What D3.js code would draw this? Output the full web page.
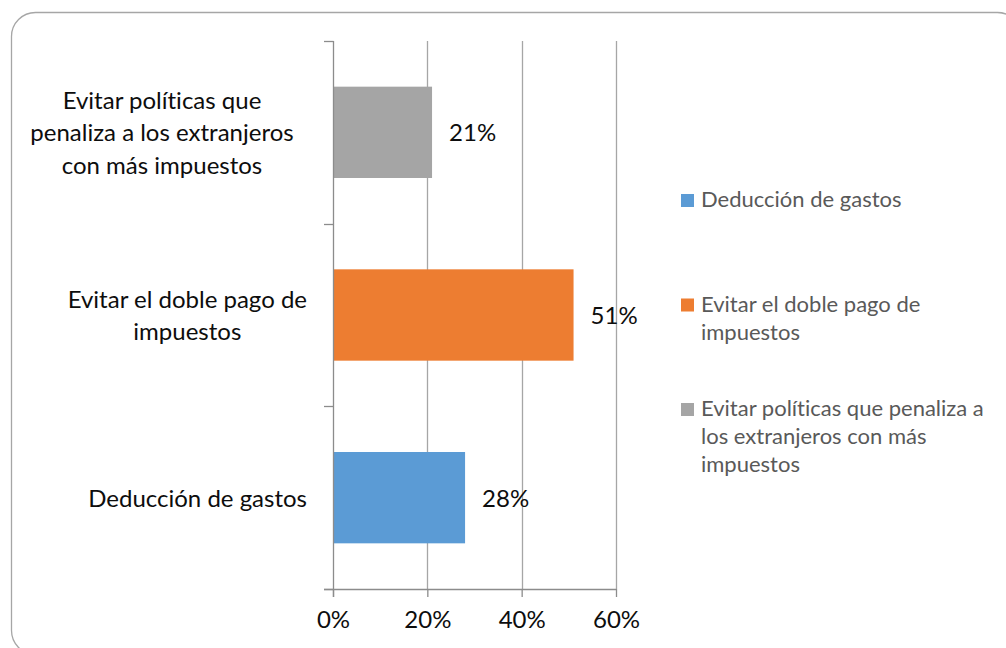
<!DOCTYPE html>
<html>
<head>
<meta charset="utf-8">
<script src="https://cdn.jsdelivr.net/npm/d3@7"></script>
<style>
  body { margin: 0; background: #fff; }
  svg { display: block; }
  text { font-family: Lato, "Open Sans", sans-serif; font-variant-ligatures: none; font-feature-settings: "liga" 0, "dlig" 0; }
</style>
</head>
<body>
<svg id="chart" width="1006" height="648"></svg>
<script>
// Series order (legend order); bars are stacked bottom-up in this order
const categories = [
  "Deducción de gastos",
  "Evitar el doble pago de impuestos",
  "Evitar políticas que penaliza a los extranjeros con más impuestos"
];
const values = [0.28, 0.51, 0.21];
const colors = ["#5B9BD5", "#ED7D31", "#A5A5A5"];
const axisLabelLines = [
  ["Deducción de gastos"],
  ["Evitar el doble pago de", "impuestos"],
  ["Evitar políticas que", "penaliza a los extranjeros", "con más impuestos"]
];
const legendLabelLines = [
  ["Deducción de gastos"],
  ["Evitar el doble pago de", "impuestos"],
  ["Evitar políticas que penaliza a", "los extranjeros con más", "impuestos"]
];
const xTicks = [0, 0.2, 0.4, 0.6];

const svg = d3.select("#chart");
const gridColor = "#a6a6a6";
const axisColor = "#8c8c8c";
const textColor = "#0d0d0d";
const legendColor = "#595959";
const catFont = 24;
const legendFont = 22;

// Chart frame with rounded corners
svg.append("rect")
  .attr("x", 11.5).attr("y", 12.5)
  .attr("width", 1010).attr("height", 642)
  .attr("rx", 24).attr("ry", 24)
  .attr("fill", "#fff")
  .attr("stroke", "#a6a6a6").attr("stroke-width", 1.3);

const plot = { left: 333, right: 616, top: 41, bottom: 589 };

const x = d3.scaleLinear().domain([0, 0.6]).range([plot.left, plot.right]);
const order = categories.map((_, i) => i).reverse(); // top to bottom
const y = d3.scaleBand().domain(order).range([plot.top, plot.bottom])
  .paddingInner(0.5).paddingOuter(0.25);
const step = y.step();
const bandCenter = i => y(i) + y.bandwidth() / 2;

// Vertical gridlines
svg.append("g").selectAll("line")
  .data(xTicks.filter(d => d > 0))
  .join("line")
  .attr("x1", d => Math.round(x(d)) + 0.5).attr("x2", d => Math.round(x(d)) + 0.5)
  .attr("y1", plot.top).attr("y2", plot.bottom)
  .attr("stroke", gridColor).attr("stroke-width", 1.3);

// Bars
svg.append("g").selectAll("rect")
  .data(values)
  .join("rect")
  .attr("x", x(0))
  .attr("y", (d, i) => y(i))
  .attr("width", d => x(d) - x(0))
  .attr("height", y.bandwidth())
  .attr("fill", (d, i) => colors[i]);

// Data labels
svg.append("g").selectAll("text")
  .data(values)
  .join("text")
  .attr("x", d => x(d) + 17)
  .attr("y", (d, i) => bandCenter(i) + 9)
  .attr("font-size", catFont)
  .attr("fill", textColor)
  .text(d => d3.format(".0%")(d));

// X axis
const xAxis = svg.append("g")
  .attr("transform", `translate(0,${plot.bottom})`)
  .call(d3.axisBottom(x).tickValues(xTicks).tickSize(8).tickPadding(14)
    .tickFormat(d3.format(".0%")));
xAxis.select(".domain").remove();
xAxis.selectAll(".tick line").attr("stroke", axisColor).attr("stroke-width", 1.3);
xAxis.selectAll(".tick text")
  .attr("font-size", catFont).attr("fill", textColor)
  .attr("font-family", "Lato, sans-serif")
  .attr("dy", "0.71em");
svg.append("line")
  .attr("x1", plot.left - 9).attr("x2", plot.right + 0.5)
  .attr("y1", plot.bottom + 0.5).attr("y2", plot.bottom + 0.5)
  .attr("stroke", axisColor).attr("stroke-width", 1.3);

// Y axis line with tick marks on category boundaries
svg.append("line")
  .attr("x1", plot.left + 0.5).attr("x2", plot.left + 0.5)
  .attr("y1", plot.top).attr("y2", plot.bottom + 8)
  .attr("stroke", axisColor).attr("stroke-width", 1.3);
const boundaries = d3.range(categories.length + 1).map(k => plot.top + k * step);
svg.append("g").selectAll("line")
  .data(boundaries)
  .join("line")
  .attr("x1", plot.left - 9).attr("x2", plot.left + 0.5)
  .attr("y1", d => Math.round(d) + 0.5).attr("y2", d => Math.round(d) + 0.5)
  .attr("stroke", axisColor).attr("stroke-width", 1.3);

// Category labels: lines centred inside a right-aligned block;
// labels that wrap onto three lines fill the whole wrap width
const catLineH = 32.5;
const catRight = 307;
const catWrapWidth = 290;
const catG = svg.append("g");
axisLabelLines.forEach((lines, i) => {
  const g = catG.append("g");
  const texts = g.selectAll("text").data(lines).join("text")
    .attr("font-size", catFont).attr("fill", textColor)
    .attr("text-anchor", "middle")
    .attr("y", (d, j) => bandCenter(i) + (j - (lines.length - 1) / 2) * catLineH + 9)
    .text(d => d);
  let maxW = 0;
  texts.each(function () { maxW = Math.max(maxW, this.getComputedTextLength()); });
  const blockW = lines.length > 2 ? Math.max(maxW, catWrapWidth) : maxW;
  texts.attr("x", catRight - blockW / 2);
});

// Legend
const legendX = 681;
const legendLineH = 28;
const legendSpacing = 118.5;
const legendTop = 200.5;
const leg = svg.append("g");
legendLabelLines.forEach((lines, i) => {
  const c = legendTop + i * legendSpacing;
  const firstBase = c - (lines.length - 1) / 2 * legendLineH + 6.5;
  leg.append("rect")
    .attr("x", legendX).attr("y", firstBase - 13)
    .attr("width", 13).attr("height", 13)
    .attr("fill", colors[i]);
  leg.append("g").selectAll("text").data(lines).join("text")
    .attr("x", legendX + 20)
    .attr("y", (d, j) => firstBase + j * legendLineH)
    .attr("font-size", legendFont)
    .attr("fill", legendColor)
    .text(d => d);
});
</script>
</body>
</html>
